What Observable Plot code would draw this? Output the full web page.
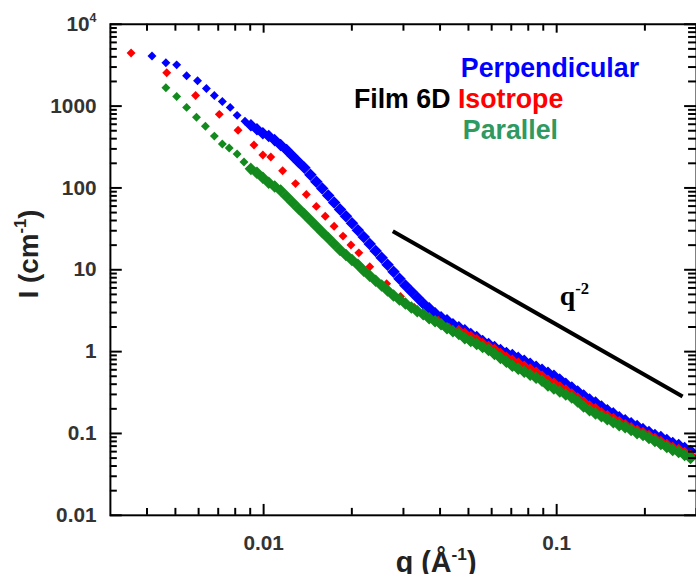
<!DOCTYPE html>
<html><head><meta charset="utf-8">
<script src="https://cdn.jsdelivr.net/npm/d3@7"></script>
<script src="https://cdn.jsdelivr.net/npm/@observablehq/plot@0.6"></script>
<style>
html,body{margin:0;padding:0;background:#fff;overflow:hidden;}
#chart svg{display:block;}
</style></head><body><div id="chart"></div>
<script>
// ---- data (q in Å^-1, I in cm^-1) ----
const seriesNames = ["Perpendicular", "Isotrope", "Parallel"];
const pointColors = ["#0000ff", "#ff0000", "#138a1d"];
const legendColors = ["#0000ff", "#ff0000", "#2e9960"];

const perpLowQ = [0.00416, 0.00464, 0.00505, 0.00546, 0.00595, 0.00638, 0.00679, 0.00723, 0.00769, 0.00812, 0.00864];
const perpLowI = [4100, 3380, 3190, 2350, 2040, 1640, 1350, 1140, 964, 771, 653];

const paraLowQ = [0.00464, 0.00505, 0.00546, 0.00590, 0.00633, 0.00679, 0.00723, 0.00763, 0.00812, 0.00857];
const paraLowI = [1680, 1310, 964, 730, 568, 430, 344, 308, 260, 208];

const isoLowQ = [0.00353, 0.00467, 0.00586, 0.00706, 0.00818, 0.00927, 0.00994, 0.01058, 0.01161, 0.01285, 0.01399, 0.01513, 0.01623, 0.01740, 0.01866, 0.01986, 0.02113, 0.02302, 0.02629, 0.02931, 0.03267, 0.03586, 0.03939, 0.04290];
const isoLowI = [4460, 2550, 1350, 793, 508, 334, 253, 239, 162, 113, 83.1, 59.5, 45.0, 34.1, 25.8, 20.1, 16.1, 10.9, 6.77, 4.72, 3.47, 2.78, 2.42, 1.99];

const qDense = [0.00905, 0.00949, 0.00994, 0.01041, 0.01091, 0.01143, 0.01198, 0.01255, 0.01315, 0.01378,
  0.01444, 0.01513, 0.01585, 0.01661, 0.01740, 0.01823, 0.01910, 0.02002, 0.02097, 0.02197,
  0.02302, 0.02412, 0.02528, 0.02648, 0.02775, 0.02908, 0.03047, 0.03192, 0.03345, 0.03505,
  0.03672, 0.03847, 0.04031, 0.04224, 0.04426, 0.04637, 0.04859, 0.05091, 0.05334, 0.05589,
  0.05856, 0.06136, 0.06430, 0.06737, 0.07059, 0.07396, 0.07750, 0.08120, 0.08508, 0.08913,
  0.09339, 0.09785, 0.1025, 0.1074, 0.1126, 0.1179, 0.1236, 0.1295, 0.1357, 0.1422,
  0.1489, 0.1561, 0.1635, 0.1713, 0.1795, 0.1881, 0.1971, 0.2065, 0.2164, 0.2267,
  0.2376, 0.2489, 0.2608, 0.2733, 0.2863];

const perpDenseI = [584, 522, 467, 430, 384, 334, 291, 246, 208, 176,
  145, 119, 98.2, 80.8, 66.5, 54.7, 45.0, 37.0, 30.5, 25.1,
  20.6, 17.0, 14.0, 11.5, 9.46, 7.79, 6.41, 5.42, 4.59, 3.88,
  3.38, 2.94, 2.63, 2.42, 2.16, 1.99, 1.83, 1.64, 1.51, 1.35,
  1.24, 1.14, 1.05, 0.964, 0.912, 0.839, 0.772, 0.710, 0.653, 0.600,
  0.552, 0.508, 0.455, 0.406, 0.364, 0.325, 0.291, 0.260, 0.239, 0.214,
  0.192, 0.176, 0.158, 0.145, 0.133, 0.123, 0.113, 0.104, 0.0955, 0.0904,
  0.0831, 0.0765, 0.0723, 0.0665, 0.0612];

const paraDenseI = [171, 153, 133, 116, 104, 92.9, 78.6, 66.5, 56.2, 47.6,
  40.3, 34.1, 28.8, 24.4, 20.6, 17.5, 15.2, 13.2, 11.5, 9.73,
  8.47, 7.36, 6.41, 5.57, 4.85, 4.34, 3.88, 3.47, 3.11, 2.86,
  2.56, 2.35, 2.16, 1.93, 1.78, 1.64, 1.46, 1.35, 1.24, 1.14,
  1.05, 0.938, 0.839, 0.750, 0.671, 0.617, 0.568, 0.522, 0.480, 0.442,
  0.385, 0.354, 0.325, 0.299, 0.275, 0.246, 0.214, 0.192, 0.176, 0.162,
  0.149, 0.137, 0.126, 0.119, 0.110, 0.101, 0.0955, 0.0879, 0.0808, 0.0743,
  0.0684, 0.0629, 0.0595, 0.0547, 0.0503];

// Isotrope dense part shares qDense from index 35 on
const isoDenseStart = 35;
const isoDenseI = [1.78, 1.64, 1.51, 1.38, 1.24, 1.14, 1.05, 0.938, 0.839, 0.772,
  0.710, 0.653, 0.600, 0.552, 0.494, 0.442, 0.406, 0.364, 0.335, 0.299,
  0.268, 0.239, 0.214, 0.197, 0.176, 0.162, 0.149, 0.137, 0.126, 0.116,
  0.107, 0.101, 0.0929, 0.0855, 0.0786, 0.0723, 0.0665, 0.0629, 0.0578, 0.0532];

// q^-2 guide line
const guideQ = [0.0276, 0.2690];
const guideI = [29.6, 0.283];

// axes
const xDomain = [0.003, 0.3];
const yDomain = [0.01, 10000];
const xMajor = [0.01, 0.1];
const xMajorLabels = ["0.01", "0.1"];
const xMinor = [0.004, 0.005, 0.006, 0.007, 0.008, 0.009, 0.02, 0.03, 0.04, 0.05, 0.06, 0.07, 0.08, 0.09, 0.2, 0.3];
const yMajor = [0.01, 0.1, 1, 10, 100, 1000, 10000];
const yMajorLabels = ["0.01", "0.1", "1", "10", "100", "1000", "10^{4}"];
const yMinor = [];
[0.01, 0.1, 1, 10, 100, 1000].forEach(b => [2,3,4,5,6,7,8,9].forEach(m => yMinor.push(+(b*m).toPrecision(3))));

const xLabel = "q (Å^{-1})";
const yLabel = "I (cm^{-1})";
const sampleLabel = "Film 6D";
const slopeLabel = "q^{-2}";

// ---- layout ----
const W = 703, H = 580, ML = 111, MR = 0, MT = 24, MB = 60;
const pxPerDecX = (W - ML - MR) / Math.log10(xDomain[1] / xDomain[0]);
const pxPerDecY = (H - MT - MB) / Math.log10(yDomain[1] / yDomain[0]);
const fx = px => Math.pow(10, px / pxPerDecX);   // multiplicative step for a tick length in px
const fy = px => Math.pow(10, px / pxPerDecY);

// ---- build tables ----
const perpLow = perpLowQ.map((q,i)=>({q, I: perpLowI[i]}));
const perpDense = qDense.map((q,i)=>({q, I: perpDenseI[i]}));
const isoLow = isoLowQ.map((q,i)=>({q, I: isoLowI[i]}));
const isoDense = isoDenseI.map((I,i)=>({q: qDense[isoDenseStart+i], I}));
const paraLow = paraLowQ.map((q,i)=>({q, I: paraLowI[i]}));
const paraDense = qDense.map((q,i)=>({q, I: paraDenseI[i]}));
const guide = guideQ.map((q,i)=>({q, I: guideI[i]}));

const rhombus = {draw(ctx, size) { const h = Math.sqrt(size/2); ctx.moveTo(0,-h); ctx.lineTo(h,0); ctx.lineTo(0,h); ctx.lineTo(-h,0); ctx.closePath(); }};
const R = 3.6, RD = 4.2;
const font = {fontFamily: "'Liberation Sans', Arial, sans-serif", fontWeight: "bold"};
const tk = {stroke: "black", strokeWidth: 2};
const [x0, x1] = xDomain, [y0, y1] = yDomain;

const chart = Plot.plot({
  width: W, height: H,
  marginLeft: ML, marginRight: MR, marginTop: MT, marginBottom: MB,
  style: {fontFamily: "'Liberation Sans', Arial, sans-serif", background: "white", overflow: "visible"},
  x: {type: "log", domain: xDomain},
  y: {type: "log", domain: yDomain},
  marks: [
    Plot.dot(perpLow, {x: "q", y: "I", symbol: rhombus, r: R, fill: pointColors[0]}),
    Plot.dot(perpDense, {x: "q", y: "I", symbol: rhombus, r: RD, fill: pointColors[0], stroke: pointColors[0], strokeWidth: 1.5}),
    Plot.dot(isoLow, {x: "q", y: "I", symbol: rhombus, r: R, fill: pointColors[1]}),
    Plot.dot(isoDense, {x: "q", y: "I", symbol: rhombus, r: RD, fill: pointColors[1], stroke: pointColors[1], strokeWidth: 1.5}),
    Plot.dot(paraLow, {x: "q", y: "I", symbol: rhombus, r: R, fill: pointColors[2]}),
    Plot.dot(paraDense, {x: "q", y: "I", symbol: rhombus, r: RD, fill: pointColors[2], stroke: pointColors[2], strokeWidth: 1.5}),
    Plot.line(guide, {x: "q", y: "I", stroke: "black", strokeWidth: 4, strokeLinecap: "butt"}),
    Plot.frame({stroke: "black", strokeWidth: 2}),
    // inward ticks on the four sides
    Plot.ruleY(yMajor, {y: d => d, x1: x0, x2: x0 * fx(12), ...tk}),
    Plot.ruleY(yMinor, {y: d => d, x1: x0, x2: x0 * fx(7), ...tk}),
    Plot.ruleY(yMajor, {y: d => d, x1: x1 / fx(12), x2: x1, ...tk}),
    Plot.ruleY(yMinor, {y: d => d, x1: x1 / fx(8), x2: x1, ...tk}),
    Plot.ruleX(xMajor, {x: d => d, y1: y0, y2: y0 * fy(11), ...tk}),
    Plot.ruleX(xMinor, {x: d => d, y1: y0, y2: y0 * fy(7), ...tk}),
    Plot.ruleX(xMajor, {x: d => d, y1: y1 / fy(9), y2: y1, ...tk}),
    Plot.ruleX(xMinor, {x: d => d, y1: y1 / fy(7), y2: y1, ...tk}),
    Plot.axisY(yMajor, {anchor: "left", tickSize: 0, tickPadding: 14, label: null, tickFormat: d => yMajorLabels[yMajor.indexOf(d)], fontSize: 21, fill: "#333", ...font}),
    Plot.axisX(xMajor, {anchor: "bottom", tickSize: 0, tickPadding: 20, label: null, tickFormat: d => xMajorLabels[xMajor.indexOf(d)], fontSize: 21, fill: "#333", ...font}),
    Plot.text([xLabel], {text: d => d, frameAnchor: "bottom", dx: 33, dy: 57, textAnchor: "middle", lineAnchor: "bottom", fontSize: 29, fill: "#222", ...font}),
    Plot.text([yLabel], {text: d => d, frameAnchor: "left", dx: -73.5, dy: -16, rotate: -90, textAnchor: "middle", lineAnchor: "bottom", fontSize: 28, fill: "#222", ...font}),
    Plot.text([seriesNames[0]], {text: d => d, frameAnchor: "top-left", dx: 354, dy: 53, textAnchor: "start", lineAnchor: "bottom", fontSize: 27, fill: legendColors[0], ...font}),
    Plot.text([sampleLabel], {text: d => d, frameAnchor: "top-left", dx: 246, dy: 85, textAnchor: "start", lineAnchor: "bottom", fontSize: 27, fill: "black", ...font}),
    Plot.text([seriesNames[1]], {text: d => d, frameAnchor: "top-left", dx: 351, dy: 85, textAnchor: "start", lineAnchor: "bottom", fontSize: 27, fill: legendColors[1], ...font}),
    Plot.text([seriesNames[2]], {text: d => d, frameAnchor: "top-left", dx: 356, dy: 116, textAnchor: "start", lineAnchor: "bottom", fontSize: 27, fill: legendColors[2], ...font}),
    Plot.text([slopeLabel], {text: d => d, frameAnchor: "top-left", dx: 454, dy: 284, textAnchor: "start", lineAnchor: "bottom", fontSize: 28, fill: "black", fontFamily: "'Liberation Serif', 'Times New Roman', serif", fontWeight: "bold"})
  ]
});
document.getElementById("chart").appendChild(chart);

// superscripts via tspans
function applySup(svg) {
  const NS = "http://www.w3.org/2000/svg";
  svg.querySelectorAll("text").forEach(t => {
    const inner = Array.from(t.querySelectorAll("tspan"));
    const targets = inner.length ? inner : [t];
    targets.forEach(el => {
      const s = el.textContent;
      if (!s.includes("^{")) return;
      const fs = parseFloat(getComputedStyle(el).fontSize) || 16;
      const parts = s.split(/\^\{([^}]*)\}/);
      while (el.firstChild) el.removeChild(el.firstChild);
      let shifted = false;
      parts.forEach((p, i) => {
        if (p === "") return;
        const ts = document.createElementNS(NS, "tspan");
        ts.textContent = p;
        if (i % 2 === 1) {
          ts.setAttribute("font-size", (fs * 0.6) + "px");
          ts.setAttribute("dy", (-fs * 0.42) + "px");
          shifted = true;
        } else if (shifted) {
          ts.setAttribute("dy", (fs * 0.42) + "px");
          shifted = false;
        }
        el.appendChild(ts);
      });
    });
  });
}
applySup(chart);
</script>
</body></html>
